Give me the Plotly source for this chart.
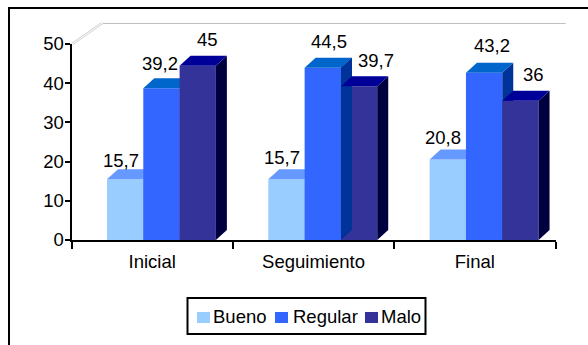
import plotly.graph_objects as go

# Data
categories = ["Inicial", "Seguimiento", "Final"]
bueno = [15.7, 15.7, 20.8]
regular = [39.2, 44.5, 43.2]
malo = [45, 39.7, 36]
y_ticks = [0, 10, 20, 30, 40, 50]

# Page and plot frame, in pixels
W, H = 588, 345
LEFT, RIGHT, TOP, BOTTOM = 71.5, 555.5, 44.0, 240.0
FONT = "Liberation Sans, Arial, sans-serif"
FONT_SIZE = 18.5

# Extrusion of the pseudo-3D columns
PX_PER_CAT = (RIGHT - LEFT) / 3
MARK_Y_MAX = 50.65  # columns sit on a slightly shallower plane than the axis
PX_PER_VAL = (BOTTOM - TOP) / MARK_Y_MAX
DEPTH_X = 11 / PX_PER_CAT
DEPTH_Y = 10 / PX_PER_VAL
BAR_W = 0.225
BAR_START = 0.22

SERIES = [
    dict(name="Bueno", values=bueno, front="#99CCFF", top="#6699FF", side="#6699FF",
         xshift=[-4, -4, -5], yshift=[19, 22, 22]),
    dict(name="Regular", values=regular, front="#3366FF", top="#0066CC", side="#003399",
         xshift=[-1, 6.5, 8], yshift=[25, 26, 27]),
    dict(name="Malo", values=malo, front="#333399", top="#000099", side="#00003F",
         xshift=[9.5, 16.5, 13.5], yshift=[26, 26, 26]),
]


def px(x):
    return x / W


def py(y):
    return 1 - y / H


def face(points, color, xa, ya):
    return go.Scatter(
        x=[p[0] for p in points] + [points[0][0]],
        y=[p[1] for p in points] + [points[0][1]],
        mode="lines", fill="toself", fillcolor=color,
        line=dict(width=0), xaxis=xa, yaxis=ya,
        hoverinfo="skip", showlegend=False,
    )


def side_face(left, value, color, xa, ya):
    r = left + BAR_W
    return face([(r, 0), (r + DEPTH_X, DEPTH_Y), (r + DEPTH_X, value + DEPTH_Y), (r, value)],
                color, xa, ya)


def top_face(left, value, color, xa, ya):
    r = left + BAR_W
    return face([(left, value), (r, value), (r + DEPTH_X, value + DEPTH_Y), (left + DEPTH_X, value + DEPTH_Y)],
                color, xa, ya)


def bar_left(cat, k):
    return cat + BAR_START + k * BAR_W


fig = go.Figure()

# Invisible trace that keeps the visible axes on the base subplot
fig.add_trace(go.Scatter(x=[0.5, 1.5, 2.5], y=[0, 0, 0], mode="markers",
                         marker=dict(opacity=0), hoverinfo="skip", showlegend=False))

# Each series has its own overlaid subplot, so later columns paint over earlier ones
for k, s in enumerate(SERIES):
    xa, ya = f"x{k + 2}", f"y{k + 2}"
    fig.add_trace(go.Bar(
        x=[bar_left(c, k) + BAR_W / 2 for c in range(3)],
        y=s["values"], width=BAR_W, name=s["name"],
        marker=dict(color=s["front"], line=dict(width=0)),
        xaxis=xa, yaxis=ya, showlegend=False,
    ))
    # Regular's side stays in front of Malo's face where Regular is the taller column
    # in the middle group, so it goes in Malo's subplot ahead of Malo's own top
    if s["name"] == "Malo":
        fig.add_trace(side_face(bar_left(1, 1), regular[1], SERIES[1]["side"], xa, ya))
    for c in range(3):
        left = bar_left(c, k)
        v = s["values"][c]
        fig.add_trace(side_face(left, v, s["side"], xa, ya))
        fig.add_trace(top_face(left, v, s["top"], xa, ya))

# Value labels
annotations = []
for k, s in enumerate(SERIES):
    for c in range(3):
        v = s["values"][c]
        annotations.append(dict(
            x=bar_left(c, k) + BAR_W / 2, y=v, xref=f"x{k + 2}", yref=f"y{k + 2}",
            text=f"{v:g}".replace(".", ","), showarrow=False,
            xanchor="center", yanchor="middle",
            xshift=s["xshift"][c], yshift=s["yshift"][c],
            font=dict(family=FONT, size=FONT_SIZE, color="black"),
        ))

line_black = dict(color="black", width=2)
shapes = [
    # Chart frame: only the top and left edges fall inside the page
    dict(type="line", xref="paper", yref="paper", x0=px(9), x1=1, y0=py(8), y1=py(8), line=line_black),
    dict(type="line", xref="paper", yref="paper", x0=px(9), x1=px(9), y0=py(7), y1=0, line=line_black),
    # Back wall edge and the double floor-to-wall diagonal
    dict(type="line", xref="paper", yref="paper", x0=px(103), x1=px(565.7), y0=py(23.5), y1=py(23.5),
         line=dict(color="#C0C0C0", width=1)),
    dict(type="line", xref="paper", yref="paper", x0=px(71.5), x1=px(101.5), y0=py(43.5), y1=py(22.5),
         line=dict(color="#CFCFCF", width=1)),
    dict(type="line", xref="paper", yref="paper", x0=px(73), x1=px(103), y0=py(44.5), y1=py(23.5),
         line=dict(color="#CFCFCF", width=1)),
    # Legend box
    dict(type="rect", xref="paper", yref="paper", x0=px(187.5), x1=px(425.5), y0=py(298), y1=py(334),
         line=line_black, fillcolor="white"),
]

# Legend entries: swatch left edge and label left edge
legend_pos = [(197, 212), (275, 292), (365, 380)]
for s, (sw, tx) in zip(SERIES, legend_pos):
    shapes.append(dict(type="rect", xref="paper", yref="paper", x0=px(sw), x1=px(sw + 13),
                       y0=py(312), y1=py(323), line=dict(width=0), fillcolor=s["front"]))
    annotations.append(dict(x=px(tx), y=py(316.5), xref="paper", yref="paper", text=s["name"],
                            showarrow=False, xanchor="left", yanchor="middle", xshift=-1,
                            font=dict(family=FONT, size=FONT_SIZE, color="black")))

x_dom = [px(LEFT), px(RIGHT)]
y_dom = [py(BOTTOM), py(TOP)]

layout = dict(
    template="none",
    width=W, height=H,
    margin=dict(l=0, r=0, t=0, b=0, pad=0, autoexpand=False),
    paper_bgcolor="white", plot_bgcolor="white",
    showlegend=False, barmode="overlay",
    font=dict(family=FONT, size=FONT_SIZE, color="black"),
    xaxis=dict(domain=x_dom, range=[0, 3], tickmode="array",
               tickvals=[0.5, 1.5, 2.5], ticktext=categories, ticks="",
               ticklabelstandoff=4, automargin=False,
               minor=dict(tickmode="array", tickvals=[0, 1, 2, 3], ticks="outside",
                          ticklen=7, tickwidth=2, tickcolor="black"),
               showline=True, linecolor="black", linewidth=2, showgrid=False, zeroline=False,
               fixedrange=True),
    yaxis=dict(domain=y_dom, range=[0, 50], tickmode="array", tickvals=y_ticks,
               ticks="outside", ticklen=5, tickwidth=2, tickcolor="black", automargin=False,
               ticklabelstandoff=-3,
               showline=True, linecolor="black", linewidth=2, showgrid=False, zeroline=False,
               fixedrange=True),
    annotations=annotations, shapes=shapes,
)
for n in (2, 3, 4):
    layout[f"xaxis{n}"] = dict(domain=x_dom, range=[0, 3], overlaying="x", anchor=f"y{n}",
                               visible=False, fixedrange=True, automargin=False)
    layout[f"yaxis{n}"] = dict(domain=y_dom, range=[0, MARK_Y_MAX], overlaying="y", anchor=f"x{n}",
                               visible=False, fixedrange=True, automargin=False)

fig.update_layout(**layout)
fig.write_html("out.html", config=dict(displayModeBar=False))
